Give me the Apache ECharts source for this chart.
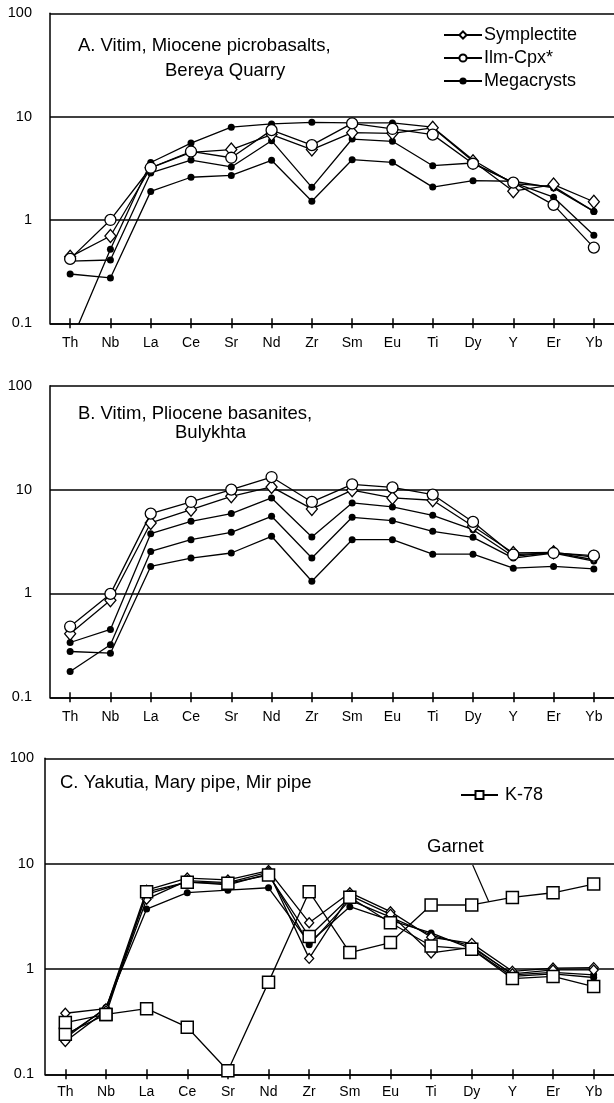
<!DOCTYPE html>
<html>
<head>
<meta charset="utf-8">
<script src="https://cdn.jsdelivr.net/npm/echarts/dist/echarts.min.js"></script>
<style>
  html, body { margin: 0; padding: 0; background: #fff; }
  #chart { width: 614px; height: 1103px; }
</style>
</head>
<body>
<div id="chart"></div>
<script>
// Trace elements, primitive-mantle normalised (log scale)
const elements = ['Th', 'Nb', 'La', 'Ce', 'Sr', 'Nd', 'Zr', 'Sm', 'Eu', 'Ti', 'Dy', 'Y', 'Er', 'Yb'];

// A. Vitim, Miocene picrobasalts, Bereya Quarry
const aSymplectite = [0.44, 0.70, 3.2, 4.5, 4.8, 6.7, 4.8, 7.0, 6.9, 7.8, 3.7, 1.9, 2.2, 1.5];
const aIlmCpx      = [0.42, 1.0, 3.2, 4.6, 4.0, 7.4, 5.3, 8.6, 7.6, 6.7, 3.5, 2.3, 1.4, 0.54];
const aMega1       = [0.063, 0.52, 3.6, 5.55, 7.9, 8.5, 8.8, 8.7, 8.7, 7.9, 3.8, 2.25, 2.1, 1.21];
const aMega2       = [0.40, 0.41, 2.85, 3.8, 3.26, 5.85, 2.07, 6.07, 5.77, 3.35, 3.56, 2.3, 1.66, 0.71];
const aMega3       = [0.30, 0.275, 1.89, 2.59, 2.70, 3.78, 1.52, 3.83, 3.61, 2.08, 2.40, 2.37, 2.04, 1.21];

// B. Vitim, Pliocene basanites, Bulykhta
const bSymplectite = [0.41, 0.86, 4.77, 6.41, 8.62, 10.6, 6.51, 9.86, 8.31, 7.89, 4.43, 2.45, 2.49, 2.24];
const bIlmCpx      = [0.48, 0.99, 5.87, 7.60, 10.0, 13.2, 7.60, 11.2, 10.5, 8.95, 4.88, 2.36, 2.45, 2.31];
const bMega1       = [0.337, 0.45, 3.76, 4.95, 5.87, 8.31, 3.49, 7.44, 6.80, 5.65, 4.11, 2.27, 2.49, 2.11];
const bMega2       = [0.177, 0.32, 2.54, 3.29, 3.88, 5.53, 2.19, 5.41, 5.02, 3.96, 3.47, 2.19, 2.45, 2.05];
const bMega3       = [0.276, 0.266, 1.82, 2.19, 2.45, 3.55, 1.31, 3.29, 3.29, 2.39, 2.39, 1.75, 1.82, 1.72];

// C. Yakutia, Mary pipe, Mir pipe
const cSymplectite1 = [0.38, 0.42, 5.6, 7.3, 7.0, 8.6, 2.75, 5.3, 3.5, 2.0, 1.75, 0.95, 1.02, 1.03];
const cSymplectite2 = [0.205, 0.40, 4.6, 6.9, 6.6, 8.3, 1.26, 5.0, 3.3, 1.42, 1.6, 0.9, 0.98, 0.98];
const cMega1        = [0.22, 0.43, 3.7, 5.3, 5.6, 5.9, 1.77, 3.9, 2.9, 2.2, 1.55, 0.85, 0.9, 0.83];
const cMega2        = [0.23, 0.42, 5.1, 6.7, 6.3, 8.0, 1.7, 4.5, 3.1, 2.1, 1.65, 0.88, 0.93, 0.88];
const cK78Cpx       = [0.24, 0.37, 5.4, 6.66, 6.5, 7.8, 2.03, 4.8, 2.75, 1.65, 1.54, 0.81, 0.85, 0.68];
const cK78Garnet    = [0.31, 0.37, 0.42, 0.28, 0.108, 0.75, 5.42, 1.43, 1.78, 4.05, 4.05, 4.78, 5.29, 6.39];

const yMin = 0.1, yMax = 100;

const FONT = '"Liberation Sans", Arial, Helvetica, sans-serif';
const INK = '#000';

// panel boxes
const panels = [
  { left: 50, top: 13.3, height: 310, width: 568.4, yLabelMargin: 18, xLabelMargin: 13 },
  { left: 50, top: 385.7, height: 311.6, width: 568.4, yLabelMargin: 18, xLabelMargin: 13 },
  { left: 45, top: 758.3, height: 316, width: 572.6, yLabelMargin: 11, xLabelMargin: 11 }
];

const styles = {
  'Symplectite': { symbol: 'diamond', symbolSize: [11, 13], fill: '#fff', border: 1.3, z: 4 },
  'Ilm-Cpx*':    { symbol: 'circle', symbolSize: 11, fill: '#fff', border: 1.3, z: 5 },
  'Megacrysts':  { symbol: 'circle', symbolSize: 7, fill: INK, border: 0, z: 3 },
  'K-78':        { symbol: 'rect', symbolSize: 12, fill: '#fff', border: 1.5, z: 6 }
};

function line(name, data, gi, extra) {
  const s = styles[name];
  return Object.assign({
    type: 'line',
    name: name,
    xAxisIndex: gi,
    yAxisIndex: gi,
    data: data,
    symbol: s.symbol,
    symbolSize: s.symbolSize,
    showAllSymbol: true,
    z: s.z,
    lineStyle: { color: INK, width: 1.3 },
    itemStyle: { color: s.fill, borderColor: INK, borderWidth: s.border, opacity: 1 },
    emphasis: { disabled: true },
    animation: false
  }, extra || {});
}

const grids = panels.map(p => ({ left: p.left, top: p.top, height: p.height, width: p.width }));

const xAxes = [];
panels.forEach((p, i) => {
  xAxes.push({
    type: 'category', gridIndex: i, data: elements, boundaryGap: true,
    axisLine: { show: true, lineStyle: { color: INK, width: 1.5 } },
    axisTick: { show: true, alignWithLabel: true, length: 5, lineStyle: { color: INK, width: 1.5 } },
    axisLabel: { color: INK, fontSize: 14, fontFamily: FONT, margin: p.xLabelMargin, interval: 0 },
    splitLine: { show: false }
  });
});
// inward half of the cross-shaped ticks
panels.forEach((p, i) => {
  xAxes.push({
    type: 'category', gridIndex: i, data: elements, boundaryGap: true, position: 'bottom',
    axisLine: { show: false },
    axisTick: { show: true, inside: true, alignWithLabel: true, length: 5, lineStyle: { color: INK, width: 1.5 } },
    axisLabel: { show: false },
    splitLine: { show: false }
  });
});

const yAxes = panels.map((p, i) => ({
  type: 'log', logBase: 10, gridIndex: i, min: yMin, max: yMax,
  axisLine: { show: true, lineStyle: { color: INK, width: 1.5 } },
  axisTick: { show: false },
  axisLabel: { color: INK, fontSize: 14.5, fontFamily: FONT, margin: p.yLabelMargin,
               formatter: v => String(+v.toPrecision(3)) },
  splitLine: { show: true, lineStyle: { color: INK, width: 1.5 } }
}));

const series = [
  // A
  line('Megacrysts', aMega1, 0),
  line('Megacrysts', aMega2, 0),
  line('Megacrysts', aMega3, 0),
  line('Symplectite', aSymplectite, 0),
  line('Ilm-Cpx*', aIlmCpx, 0),
  // B
  line('Megacrysts', bMega1, 1),
  line('Megacrysts', bMega2, 1),
  line('Megacrysts', bMega3, 1),
  line('Symplectite', bSymplectite, 1),
  line('Ilm-Cpx*', bIlmCpx, 1),
  // C
  line('Megacrysts', cMega1, 2),
  line('Megacrysts', cMega2, 2),
  line('Symplectite', cSymplectite1, 2, { symbolSize: [9, 10] }),
  line('Symplectite', cSymplectite2, 2, { symbolSize: [9, 10] }),
  line('K-78', cK78Cpx, 2),
  line('K-78', cK78Garnet, 2)
];

const titleText = (id, text, x, y) => ({
  id: id, type: 'text', x: x, y: y, silent: true,
  style: { text: text, font: '18.5px ' + FONT, fill: INK, verticalAlign: 'middle', align: 'left' }
});

const chart = echarts.init(document.getElementById('chart'), null, { renderer: 'canvas' });
chart.setOption({
  backgroundColor: '#fff',
  animation: false,
  grid: grids,
  xAxis: xAxes,
  yAxis: yAxes,
  legend: [
    {
      data: ['Symplectite', 'Ilm-Cpx*', 'Megacrysts'],
      orient: 'vertical', left: 443, top: 26, padding: 0,
      itemWidth: 38, itemHeight: 9, itemGap: 5, selectedMode: false,
      textStyle: { color: INK, fontSize: 18, fontFamily: FONT, padding: [0, 0, 0, -3] }
    },
    {
      data: ['K-78'],
      orient: 'vertical', left: 460, top: 786, padding: 0,
      itemWidth: 37, itemHeight: 10, itemGap: 5, selectedMode: false,
      textStyle: { color: INK, fontSize: 18, fontFamily: FONT, padding: [0, 0, 0, 2] }
    }
  ],
  graphic: [
    titleText('titleA1', 'A. Vitim, Miocene picrobasalts,', 78, 46),
    titleText('titleA2', 'Bereya Quarry', 165, 71),
    titleText('titleB1', 'B. Vitim, Pliocene basanites,', 78, 414),
    titleText('titleB2', 'Bulykhta', 175, 433),
    titleText('titleC1', 'C. Yakutia, Mary pipe, Mir pipe', 60, 783),
    titleText('garnetLabel', 'Garnet', 427, 847)
  ],
  series: series
});

// leader from the "Garnet" label down to the garnet profile between Dy and Y
const pDy = chart.convertToPixel({ gridIndex: 2 }, ['Dy', cK78Garnet[10]]);
const pY = chart.convertToPixel({ gridIndex: 2 }, ['Y', cK78Garnet[11]]);
const t = 0.42;
const end = [pDy[0] + t * (pY[0] - pDy[0]), pDy[1] + t * (pY[1] - pDy[1])];
chart.setOption({
  graphic: [
    {
      id: 'garnetLeader', type: 'line', silent: true,
      shape: { x1: 472.7, y1: 865, x2: end[0], y2: end[1] },
      style: { stroke: INK, lineWidth: 1.2 }
    }
  ]
});
</script>
</body>
</html>
